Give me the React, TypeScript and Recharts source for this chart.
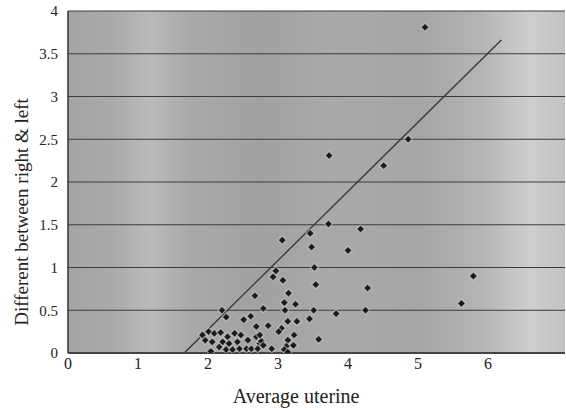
import React from 'react';
import { ScatterChart, Scatter, XAxis, YAxis, CartesianGrid, ReferenceLine, Label } from 'recharts';

// Average uterine (x) and difference between right & left (y)
const avgUterine = [
  5.10, 4.86, 4.51, 3.73, 3.72, 4.18, 4.00, 5.79, 5.62, 4.28,
  4.25, 3.83, 3.58, 3.52, 3.54, 3.51, 3.46, 3.48, 3.06, 2.97,
  2.93, 3.07, 2.67, 3.15, 3.09, 3.25, 3.10, 2.79, 2.20, 2.26,
  2.61, 2.51, 2.86, 3.05, 3.01, 3.14, 3.27, 3.45, 3.23, 3.14,
  3.12, 3.09, 3.14, 3.22, 2.91, 2.01, 2.09, 2.18, 2.28, 2.38,
  2.47, 1.96, 2.06, 2.21, 2.30, 2.42, 2.57, 2.69, 2.74, 2.26,
  2.35, 2.45, 2.55, 2.04, 2.16, 2.62, 2.76, 2.71, 2.79, 2.69,
  2.74, 1.92,
];
const diffRightLeft = [
  3.81, 2.50, 2.19, 2.31, 1.51, 1.45, 1.20, 0.90, 0.58, 0.76,
  0.50, 0.46, 0.16, 1.00, 0.80, 0.50, 1.40, 1.24, 1.32, 0.96,
  0.89, 0.85, 0.67, 0.70, 0.59, 0.57, 0.50, 0.52, 0.50, 0.42,
  0.43, 0.39, 0.32, 0.29, 0.25, 0.37, 0.37, 0.40, 0.21, 0.15,
  0.08, 0.04, 0.01, 0.09, 0.05, 0.25, 0.23, 0.24, 0.19, 0.23,
  0.21, 0.15, 0.13, 0.13, 0.11, 0.13, 0.15, 0.19, 0.11, 0.04,
  0.04, 0.05, 0.05, 0.02, 0.07, 0.05, 0.14, 0.05, 0.09, 0.31,
  0.21, 0.21,
];
const xTicks = [0, 1, 2, 3, 4, 5, 6];
const yTicks = [0, 0.5, 1, 1.5, 2, 2.5, 3, 3.5, 4];
const trendX = [1.66, 6.19];
const trendY = [0, 3.66];

const points = avgUterine.map((x, i) => ({ x, y: diffRightLeft[i] }));

const FONT = '"Liberation Serif", "Times New Roman", serif';

const Diamond = (props: any) => {
  const { cx, cy } = props;
  if (cx == null || cy == null) return null;
  const r = 4;
  return (
    <path
      d={`M${cx},${cy - r}L${cx + r},${cy}L${cx},${cy + r}L${cx - r},${cy}Z`}
      fill="#1a1a1a"
      stroke="rgba(255,255,255,0.45)"
      strokeWidth={1.2}
    />
  );
};

const XTick = (props: any) => {
  const { x, y, payload } = props;
  return (
    <text x={x} y={y} dy="0.71em" textAnchor="middle" fontSize={16} fontFamily={FONT} fill="#222">
      {payload.value}
    </text>
  );
};

const YTick = (props: any) => {
  const { x, y, payload } = props;
  return (
    <text x={x} y={y} dy="0.355em" textAnchor="end" fontSize={15} fontFamily={FONT} fill="#222">
      {payload.value}
    </text>
  );
};

const XLabel = (props: any) => {
  const vb = props.viewBox || { x: 0, y: 0, width: 0, height: 0 };
  return (
    <text x={vb.x + vb.width * 0.459} y={vb.y + 50} textAnchor="middle" fontSize={20} fontFamily={FONT} fill="#222">
      Average uterine
    </text>
  );
};

const YLabel = (props: any) => {
  const vb = props.viewBox || { x: 0, y: 0, width: 0, height: 0 };
  const x = vb.x + 21;
  const y = vb.y + vb.height / 2 + 30;
  return (
    <text x={x} y={y} transform={`rotate(-90, ${x}, ${y})`} textAnchor="middle" dominantBaseline="central" fontSize={19} fontFamily={FONT} fill="#222">
      Different between right &amp; left
    </text>
  );
};

export default function App() {
  return (
    <div style={{ position: 'absolute', left: 0, top: 0, width: 566, height: 410, background: '#fff', fontFamily: FONT }}>
      <ScatterChart width={566} height={410} margin={{ top: 11, right: 1, bottom: 0, left: 0 }} style={{ fontFamily: FONT }}>
        <defs>
          <linearGradient id="bgGrad" x1="0" y1="0" x2="1" y2="0">
            <stop offset="0" stopColor="#a4a4a4" />
            <stop offset="0.085" stopColor="#a9a9a9" />
            <stop offset="0.165" stopColor="#bababa" />
            <stop offset="0.245" stopColor="#a9a9a9" />
            <stop offset="0.386" stopColor="#a1a1a1" />
            <stop offset="0.527" stopColor="#a9a9a9" />
            <stop offset="0.708" stopColor="#a5a5a5" />
            <stop offset="0.829" stopColor="#b4b4b4" />
            <stop offset="0.93" stopColor="#cecece" />
            <stop offset="1" stopColor="#c2c2c2" />
          </linearGradient>
        </defs>
        <CartesianGrid vertical={false} fill="url(#bgGrad)" fillOpacity={1} stroke="#3c3c3c" strokeOpacity={1} />
        <XAxis
          type="number"
          dataKey="x"
          domain={[0, 7.1]}
          ticks={xTicks}
          allowDataOverflow
          height={57}
          tickLine={false}
          tickSize={4}
          tickMargin={1}
          axisLine={{ stroke: '#444', strokeWidth: 2 }}
          tick={<XTick />}
        >
          <Label content={<XLabel />} />
        </XAxis>
        <YAxis
          type="number"
          dataKey="y"
          domain={[0, 4]}
          ticks={yTicks}
          allowDataOverflow
          width={68}
          tickLine={false}
          tickSize={6}
          tickMargin={4}
          axisLine={{ stroke: '#333', strokeWidth: 1.5 }}
          tick={<YTick />}
        >
          <Label content={<YLabel />} />
        </YAxis>
        <ReferenceLine
          segment={[{ x: trendX[0], y: trendY[0] }, { x: trendX[1], y: trendY[1] }]}
          stroke="#333"
          strokeWidth={1.3}
          ifOverflow="visible"
        />
        <Scatter data={points} shape={<Diamond />} isAnimationActive={false} />
      </ScatterChart>
    </div>
  );
}
